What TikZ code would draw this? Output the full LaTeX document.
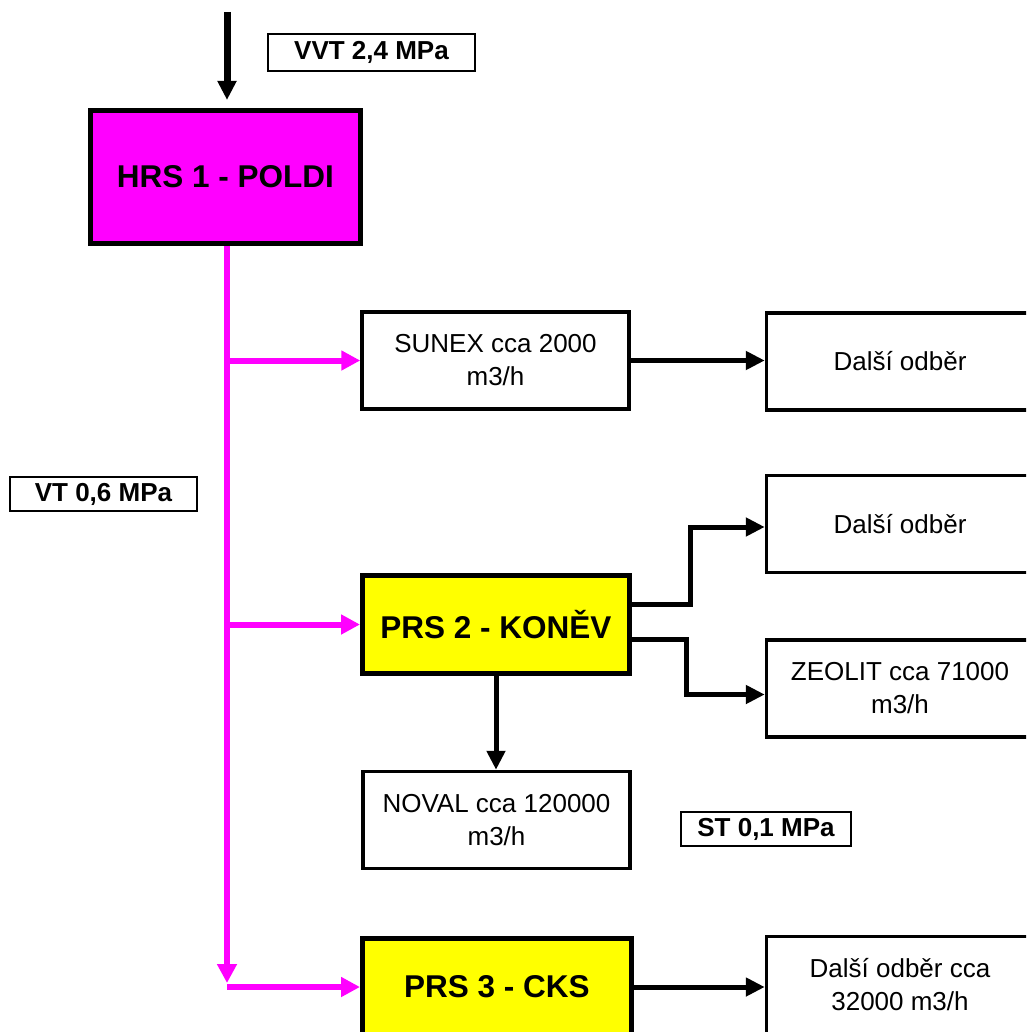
\documentclass[tikz,border=0pt]{standalone}
\usepackage{fontspec}
\setmainfont{Liberation Sans}
\usetikzlibrary{arrows.meta}
\definecolor{plyn}{RGB}{255,0,255}
\definecolor{regul}{RGB}{255,255,0}

\begin{document}
\begin{tikzpicture}[x=1pt, y=-1pt,
  station/.style={draw, line width=5, inner sep=0, align=center, font=\fontsize{31.5}{37}\selectfont\bfseries},
  odber/.style={draw, line width=3.5, fill=white, inner sep=0, align=center, minimum width=267, minimum height=97, font=\fontsize{26}{33}\selectfont},
  tlak/.style={draw, line width=2, inner sep=0, minimum height=34, font=\fontsize{26}{30}\selectfont\bfseries},
  tok/.style={line width=5, -{Triangle[length=19pt, width=18pt]}},
  vt/.style={line width=6, plyn, -{Triangle[length=19pt, width=19pt]}}]
\clip (0,0) rectangle (1026,1032);
% stanice
\node[station, fill=plyn, minimum width=270, minimum height=133] (hrs) at (225.5,177) {HRS 1 - POLDI};
\node[station, fill=regul, minimum width=267, minimum height=98] (prs2) at (496,624.5) {PRS 2 - KONĚV};
\node[station, fill=regul, minimum width=269, minimum height=98] (prs3) at (497,987) {PRS 3 - CKS};
% odbery
\node[odber] (sunex) at (495.5,360.5) {SUNEX cca 2000\\m3/h};
\node[odber] (dalsi1) at (900,361.5) {Další odběr};
\node[odber] (dalsi2) at (900,524) {Další odběr};
\node[odber] (zeolit) at (900,688.5) {ZEOLIT cca 71000\\m3/h};
\node[odber] (noval) at (496.5,820) {NOVAL cca 120000\\m3/h};
\node[odber] (dalsi3) at (900,985) {Další odběr cca\\32000 m3/h};
% tlakove urovne
\node[tlak, minimum width=207, minimum height=37] (vvt) at (371.5,52.5) {VVT 2,4 MPa};
\node[tlak, minimum width=187] (vtl) at (103.5,494) {VT 0,6 MPa};
\node[tlak, minimum width=170] (st) at (766,829) {ST 0,1 MPa};
% privod
\coordinate (vstup) at (227,12);
\draw[tok, line width=7, shorten >=8pt] (vstup) -- (vstup |- hrs.north);
% VT rozvod
\coordinate (trunk) at (227,0);
\draw[vt] (trunk |- hrs.south) -- ([yshift=4pt]trunk |- prs3.west);
\draw[vt] (trunk |- sunex.west) -- (sunex.west);
\draw[vt] (trunk |- prs2.west) -- (prs2.west);
\draw[vt] (trunk |- prs3.west) -- (prs3.west);
% ST rozvod
\draw[tok] (sunex.east) -- (sunex.east -| dalsi1.west);
\draw[tok] ([yshift=20pt]prs2.east) -- ++(58,0) |- ([yshift=-3pt]dalsi2.west);
\draw[tok] ([yshift=-15pt]prs2.east) -- ++(54,0) |- ([yshift=-6pt]zeolit.west);
\draw[tok] (prs2.south) -- (prs2.south |- noval.north);
\draw[tok] (prs3.east) -- (prs3.east -| dalsi3.west);
\end{tikzpicture}
\end{document}
